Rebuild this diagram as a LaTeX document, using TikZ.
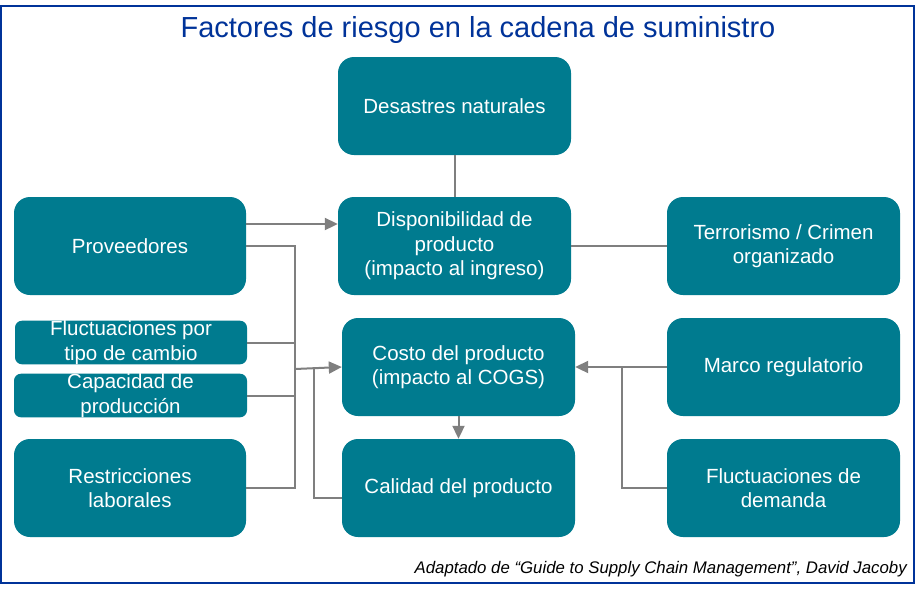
\documentclass[tikz,border=0pt]{standalone}
\usepackage{fontspec}
\setmainfont{Liberation Sans}
\usetikzlibrary{arrows.meta}
\definecolor{teal}{RGB}{0,123,143}
\definecolor{lgray}{RGB}{127,127,127}
\definecolor{fblue}{RGB}{0,51,153}
\tikzset{
  box/.style={draw=none,fill=teal,text=white,rounded corners=16pt,minimum width=233pt,minimum height=98pt,inner sep=0pt,align=center,font=\fontsize{20.5}{24.5}\selectfont},
  sbox/.style={box,rounded corners=7pt,minimum height=43pt},
  conn/.style={draw=lgray,line width=2pt},
  arr/.style={conn,-{Triangle[length=13pt,width=12pt]}}
}
\begin{document}
\begin{tikzpicture}[x=1pt,y=-1pt]
\useasboundingbox (0,0) rectangle (917,589);
\fill[white] (0,0) rectangle (917,589);
\draw[fblue,line width=2pt] (1,5.7) rectangle (913.5,583);
\node[text=fblue,font=\fontsize{29}{34}\selectfont,anchor=base] (title) at (478,37) {Factores de riesgo en la cadena de suministro};
\node[box] (des) at (454.5,106) {Desastres naturales};
\node[box,minimum width=232pt] (prov) at (130,246) {Proveedores};
\node[box] (disp) at (454.5,246) {Disponibilidad de\\producto\\(impacto al ingreso)};
\node[box] (terr) at (783.5,246) {Terrorismo / Crimen\\organizado};
\node[sbox,minimum width=232pt] (fx) at (131,342.5) {Fluctuaciones por\\tipo de cambio};
\node[sbox] (cap) at (130.5,395.5) {Capacidad de\\producción};
\node[box,minimum width=232pt] (restr) at (130,488) {Restricciones\\laborales};
\node[box] (costo) at (458.5,367) {Costo del producto\\(impacto al COGS)};
\node[box] (calid) at (458.5,488) {Calidad del producto};
\node[box] (marco) at (783.5,367) {Marco regulatorio};
\node[box] (dem) at (783.5,488) {Fluctuaciones de\\demanda};
\node[anchor=base east,font=\fontsize{16.8}{20}\selectfont\itshape,inner sep=0pt] (src) at (907,573) {Adaptado de “Guide to Supply Chain Management”, David Jacoby};
\coordinate (bt) at (295,246);
\coordinate (bb) at (295,488);
\coordinate (cj) at (314,368);
\coordinate (rj) at (622,367);
\draw[conn] (des.south) -- (disp.north);
\draw[arr] ([yshift=22pt]prov.east) -- ([yshift=22pt]disp.west);
\draw[conn] (prov.east) -- (bt) -- (bb) -- (restr.east);
\draw[conn] (fx.east) -- (fx.east -| bt);
\draw[conn] (cap.east) -- (cap.east -| bt);
\draw[arr] ([yshift=-2pt]bt |- costo.west) -- (costo.west);
\draw[conn] ([yshift=-10pt]calid.west) -| (cj);
\draw[conn] (disp.east) -- (terr.west);
\draw[arr] (marco.west) -- (costo.east);
\draw[conn] (dem.west) -| (rj);
\draw[arr] (costo.south) -- (calid.north);
\end{tikzpicture}
\end{document}
